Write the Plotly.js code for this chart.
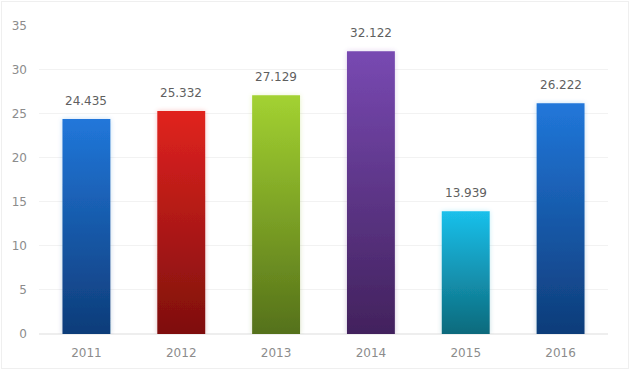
<!DOCTYPE html>
<html>
<head>
<meta charset="utf-8">
<script src="https://cdn.plot.ly/plotly-3.0.1.min.js"></script>
<style>
html,body{margin:0;padding:0;background:#fff;}
#chart{width:630px;height:370px;position:relative;}
#frame{position:absolute;left:1px;top:1px;width:626px;height:366px;border:1px solid #efefef;pointer-events:none;}
</style>
</head>
<body>
<div id="chart"></div>
<div id="frame"></div>
<script>
const categories = ['2011','2012','2013','2014','2015','2016'];
const values = [24.435, 25.332, 27.129, 32.122, 13.939, 26.222];
const labels = ['24.435','25.332','27.129','32.122','13.939','26.222'];
const topColors = ['#2177DA','#E1231F','#A3D231','#7849B2','#1AC0EB','#2177DA'];
const bottomColors = ['#0E3C79','#7E0F0D','#55711A','#42225D','#0D6A7C','#0E3C79'];
const yTicks = [0,5,10,15,20,25,30,35];

const trace = {
  type: 'bar',
  x: categories,
  y: values,
  marker: {color: topColors, line: {width: 0}},
  hoverinfo: 'none'
};

const annotations = categories.map((c, i) => ({
  x: i, y: values[i], text: labels[i],
  xref: 'x', yref: 'y', showarrow: false,
  yanchor: 'bottom', yshift: 9,
  font: {family: 'DejaVu Sans', size: 12, color: '#5f5f5f'}
}));

const layout = {
  width: 630, height: 370,
  margin: {l: 39, r: 22, t: 25, b: 36},
  paper_bgcolor: '#ffffff',
  plot_bgcolor: '#ffffff',
  bargap: 0.495,
  showlegend: false,
  font: {family: 'DejaVu Sans', size: 12, color: '#8c8c8c'},
  xaxis: {
    type: 'category',
    range: [-0.5, categories.length - 0.5],
    showgrid: false,
    zeroline: false,
    showline: false,
    ticks: '',
    ticklabelstandoff: 10,
    tickfont: {family: 'DejaVu Sans', size: 12, color: '#8c8c8c'}
  },
  yaxis: {
    range: [0, 35.1],
    tickvals: yTicks,
    showgrid: true,
    gridcolor: '#f2f2f2',
    gridwidth: 1,
    zeroline: true,
    zerolinecolor: '#eeeeee',
    zerolinewidth: 2,
    showline: false,
    ticks: '',
    ticklabelstandoff: 11,
    tickfont: {family: 'DejaVu Sans', size: 12, color: '#8c8c8c'}
  },
  annotations: annotations
};

Plotly.newPlot('chart', [trace], layout, {displayModeBar: false, staticPlot: true}).then(() => {
  const svg = document.querySelector('#chart svg.main-svg');
  const ns = 'http://www.w3.org/2000/svg';
  let defs = svg.querySelector('defs');
  if (!defs) { defs = document.createElementNS(ns, 'defs'); svg.insertBefore(defs, svg.firstChild); }
  topColors.forEach((tc, i) => {
    const g = document.createElementNS(ns, 'linearGradient');
    g.setAttribute('id', 'barGrad' + i);
    g.setAttribute('x1', '0'); g.setAttribute('y1', '0');
    g.setAttribute('x2', '0'); g.setAttribute('y2', '1');
    const s1 = document.createElementNS(ns, 'stop');
    s1.setAttribute('offset', '0'); s1.setAttribute('stop-color', tc);
    const s2 = document.createElementNS(ns, 'stop');
    s2.setAttribute('offset', '1'); s2.setAttribute('stop-color', bottomColors[i]);
    g.appendChild(s1); g.appendChild(s2);
    defs.appendChild(g);
  });
  const f = document.createElementNS(ns, 'filter');
  f.setAttribute('id', 'barGlow');
  f.setAttribute('x', '-30%'); f.setAttribute('y', '-10%');
  f.setAttribute('width', '160%'); f.setAttribute('height', '120%');
  f.innerHTML = '<feGaussianBlur in="SourceGraphic" stdDeviation="2.5" result="b"/>' +
    '<feComponentTransfer in="b" result="c"><feFuncA type="linear" slope="0.25"/></feComponentTransfer>' +
    '<feMerge><feMergeNode in="c"/><feMergeNode in="SourceGraphic"/></feMerge>';
  defs.appendChild(f);
  const bars = svg.querySelectorAll('g.point path');
  bars.forEach((p, i) => {
    p.style.fill = 'url(#barGrad' + i + ')';
    p.setAttribute('filter', 'url(#barGlow)');
  });
});
</script>
</body>
</html>
